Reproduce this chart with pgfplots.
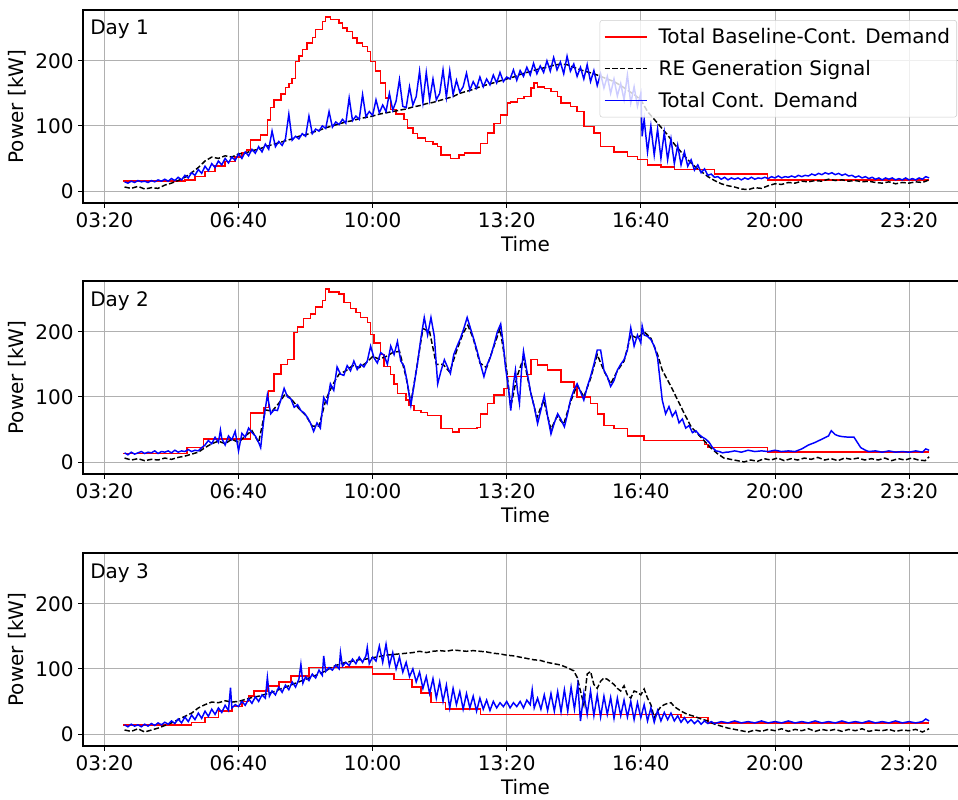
\documentclass[border=0pt]{standalone}
\usepackage{fontspec}
\setmainfont{DejaVu Sans}
\usepackage{pgfplots}
\pgfplotsset{compat=1.18}

\definecolor{darkgray176}{RGB}{176,176,176}
\definecolor{lightgray204}{RGB}{204,204,204}
\newcommand\fs{\fontsize{15}{18}\selectfont}

\pgfplotsset{
  dayax/.style={
    scale only axis, anchor=south west,
    width=663.75pt, height=144.75pt,
    xmin=168, xmax=1488, ymin=-18.5, ymax=278,
    xtick={200,400,600,800,1000,1200,1400},
    xticklabels={03:20,06:40,10:00,13:20,16:40,20:00,23:20},
    ytick={0,100,200},
    xmajorgrids, ymajorgrids,
    grid style={darkgray176, line width=0.6pt},
    axis line style={line width=0.8pt},
    tick align=outside, tick pos=left,
    major tick length=3.5pt,
    tick style={line width=0.6pt, color=black},
    tick label style={font=\fs},
    label style={font=\fs},
    /pgf/number format/assume math mode=true,
    xlabel={Time}, ylabel={Power [kW]},
  },
  redline/.style={red, line width=1.1pt, const plot},
  blkline/.style={black, line width=1.1pt, dash pattern=on 4pt off 1.8pt},
  bluline/.style={blue, line width=1.1pt},
}

\begin{document}
\begin{tikzpicture}

% ---------------- Day 1 ----------------
\begin{axis}[dayax, at={(62.25pt,447.75pt)},
  legend cell align={left},
  legend image code/.code={\draw[#1] (0pt,0pt) -- (32pt,0pt);},
  legend style={font=\fs, fill opacity=0.8, draw opacity=1, text opacity=1,
    draw=lightgray204, rounded corners=2pt,
    at={(0.9876,0.948)}, anchor=north east, row sep=7pt,
    inner ysep=4pt,
    /tikz/every odd column/.append style={column sep=6pt}}
]
\addplot [redline] coordinates {
(228,15)(320,17)(335,22)(350,30)(365,38)(380,45)(395,52)(405,58)(412,63)
(418,78)(433,86)(443,109)(448,128)(453,140)(463,149)(470,159)(475,165)(480,173)
(485,199)(490,207)(495,217)(502,227)(510,236)(515,248)(525,260)(530,267)(537,263)(550,258)
(555,250)(562,245)(570,235)(577,227)(585,222)(592,214)(597,199)(604,184)(612,166)(619,143)
(627,125)(635,118)(647,110)(652,97)(660,88)(667,81)(679,76)(690,72)(697,68)(702,55)
(716,50)(729,55)(737,58)(761,73)(771,89)(781,104)(791,117)(801,135)(806,137)(816,142)
(826,145)(836,158)(841,166)(846,160)(856,157)(866,153)(876,145)(881,135)(895,130)(905,122)
(915,99)(930,89)(940,68)(960,60)(980,53)(995,48)(1010,40)(1030,37)(1050,33)(1110,26)
(1189,17)(1430,17)
};
\addlegendentry{Total Baseline-Cont. Demand}
\addplot [blkline] coordinates {
(230,6)(240,4)(250,7)(260,3)(270,5)(280,4)(290,9)(300,12)(310,16)(320,21)(330,28)(340,36)
(350,46)(360,52)(370,50)(380,54)(390,52)(400,57)(410,58)(420,62)(430,64)(440,68)(450,71)
(460,74)(470,77)(480,80)(490,84)(500,86)(510,90)(520,93)(530,97)(540,100)(550,103)(560,106)
(570,108)(580,111)(590,113)(600,115)(610,118)(620,120)(630,122)(640,124)(650,126)(660,129)
(670,131)(680,134)(690,136)(700,139)(710,142)(720,145)(730,150)(740,153)(750,156)(760,160)
(770,163)(780,166)(790,169)(800,172)(810,175)(820,179)(830,182)(840,185)(850,188)(860,190)
(870,193)(880,195)(890,194)(900,190)(910,186)(920,183)(930,180)(940,176)(950,172)(960,168)
(970,162)(980,155)(990,148)(1000,140)(1010,122)(1020,110)(1030,98)(1040,86)(1050,72)(1060,60)
(1070,48)(1080,38)(1090,30)(1100,22)(1110,16)(1120,11)(1130,8)(1140,6)(1150,3)(1160,2)
(1170,5)(1180,4)(1190,8)(1200,11)(1210,10)(1220,13)(1230,12)(1240,15)(1250,14)(1260,16)
(1270,15)(1280,18)(1290,16)(1300,17)(1310,15)(1320,16)(1330,14)(1340,15)(1350,13)(1360,12)
(1370,14)(1380,11)(1390,13)(1400,12)(1410,14)(1420,13)(1430,17)
};
\addlegendentry{RE Generation Signal}
\addplot [bluline] coordinates {
(230,14)(235,12)(240,15)(245,13)(250,16)(255,14)(260,15)(265,13)(270,16)(275,14)(280,17)
(285,15)(290,18)(295,15)(300,19)(305,16)(310,21)(315,17)(320,24)(325,20)(330,28)(335,24)
(340,33)(345,27)(350,38)(355,31)(360,42)(365,36)(370,46)(375,40)(380,50)(385,43)(390,52)
(395,47)(400,57)(405,50)(410,60)(415,54)(420,64)(425,58)(430,68)(435,60)(440,72)(445,64)
(450,92)(455,68)(460,76)(465,70)(470,80)(475,118)(480,78)(485,84)(490,80)(495,88)(500,84)
(505,115)(510,88)(515,95)(520,92)(525,100)(530,96)(535,122)(540,98)(545,106)(550,102)
(555,110)(560,104)(565,143)(570,108)(575,115)(580,110)(585,148)(590,114)(595,122)(600,116)
(605,140)(610,120)(615,132)(620,122)(625,150)(630,124)(635,138)(640,171)(645,130)(650,128)
(655,160)(660,132)(665,145)(670,184)(675,136)(680,182)(685,140)(690,172)(695,140)(700,150)
(705,186)(710,144)(715,185)(720,148)(725,170)(730,152)(735,160)(740,181)(745,155)(750,168)
(755,158)(760,175)(765,160)(770,172)(775,163)(780,178)(785,166)(790,182)(795,168)(800,175)
(805,172)(810,186)(815,170)(820,185)(825,176)(830,190)(835,178)(840,196)(845,180)(850,192)
(855,182)(860,200)(865,184)(870,205)(875,186)(880,198)(885,180)(890,207)(895,184)(900,195)
(905,176)(910,190)(915,172)(920,194)(925,168)(930,185)(935,162)(940,180)(945,158)(950,176)
(955,150)(960,172)(965,146)(970,165)(975,140)(980,178)(985,135)(990,160)(995,130)(1000,150)
(1002,84)(1005,110)(1010,60)(1015,100)(1020,55)(1025,95)(1030,50)(1035,90)(1040,48)(1045,80)
(1050,42)(1055,70)(1060,40)(1065,60)(1070,38)(1075,48)(1080,32)(1085,40)(1090,28)(1095,34)
(1100,24)(1105,26)(1110,21)(1115,22)(1120,18)(1125,21)(1130,17)(1135,20)(1140,18)(1145,20)
(1150,17)(1155,20)(1160,18)(1165,21)(1170,18)(1175,20)(1180,19)(1185,21)(1190,19)(1195,22)
(1200,20)(1205,23)(1210,20)(1215,22)(1220,21)(1225,23)(1230,21)(1235,24)(1240,22)(1245,24)
(1250,23)(1255,26)(1260,24)(1265,27)(1270,25)(1275,28)(1280,26)(1285,28)(1290,25)(1295,27)
(1300,24)(1305,26)(1310,23)(1315,24)(1320,21)(1325,23)(1330,20)(1335,22)(1340,19)(1345,21)
(1350,18)(1355,20)(1360,17)(1365,20)(1370,18)(1375,20)(1380,17)(1385,19)(1390,17)(1395,20)
(1400,17)(1405,19)(1410,17)(1415,20)(1420,18)(1425,22)(1430,20)
};
\addlegendentry{Total Cont. Demand}
\node[anchor=north west, inner sep=0pt, font=\fs] at (rel axis cs:0,1) [xshift=5.25pt, yshift=-7.5pt] {Day 1};
\end{axis}

% ---------------- Day 2 ----------------
\begin{axis}[dayax, at={(62.25pt,244.5pt)}]
\addplot [redline] coordinates {
(228,13)(323,22)(348,35)(418,75)(438,84)(445,109)(453,135)(463,150)(473,157)(483,199)
(488,207)(497,220)(507,227)(515,238)(525,248)(530,266)(535,261)(550,258)(557,245)(567,236)
(575,230)(582,222)(592,214)(597,196)(602,183)(612,165)(617,147)(627,134)(632,120)(637,105)
(650,95)(654,87)(662,79)(672,76)(682,71)(702,51)(719,46)(729,51)(756,53)(761,74)(771,90)
(781,103)(796,113)(801,131)(831,134)(836,157)(846,149)(861,141)(881,123)(900,115)(905,100)
(925,90)(935,74)(945,56)(960,51)(980,40)(1005,33)(1095,27)(1100,22)(1189,15)(1430,15)
};
\addplot [blkline] coordinates {
(230,6)(240,3)(250,5)(260,2)(270,4)(280,3)(290,6)(300,4)(310,7)(320,9)(330,12)(340,15)
(350,22)(360,28)(370,32)(380,28)(390,35)(400,30)(410,40)(420,48)(430,30)(440,80)(450,78)
(460,90)(470,105)(480,95)(490,82)(500,72)(510,55)(520,55)(530,95)(540,118)(550,135)(560,140)
(570,148)(580,145)(590,152)(600,162)(610,158)(620,162)(630,168)(640,170)(650,130)(657,90)
(665,140)(675,205)(685,200)(695,150)(705,150)(715,138)(725,170)(735,198)(742,210)(750,190)
(760,152)(770,145)(780,175)(790,205)(800,140)(806,85)(815,130)(825,160)(835,110)(845,68)
(855,95)(866,50)(875,70)(885,58)(895,92)(905,118)(915,100)(925,128)(935,165)(945,140)
(955,120)(965,140)(975,155)(985,195)(995,190)(1005,200)(1015,190)(1025,165)(1032,141)
(1045,116)(1055,95)(1065,74)(1075,54)(1085,43)(1095,32)(1104,22)(1114,13)(1124,6)(1134,4)
(1144,2)(1154,0)(1164,3)(1174,1)(1184,5)(1194,3)(1204,6)(1214,2)(1224,5)(1234,3)(1244,6)
(1254,4)(1264,7)(1274,3)(1284,5)(1294,2)(1304,6)(1314,4)(1324,6)(1334,3)(1344,5)(1354,3)
(1364,6)(1374,2)(1384,5)(1394,3)(1404,6)(1414,3)(1424,2)(1430,8)
};
\addplot [bluline] coordinates {
(230,14)(235,11)(240,15)(245,12)(250,14)(255,16)(260,13)(265,15)(270,14)(275,17)(280,13)
(285,16)(290,15)(295,17)(300,14)(305,18)(310,15)(315,17)(320,16)(325,19)(330,16)(335,18)
(340,17)(345,22)(350,26)(355,33)(360,28)(365,38)(370,30)(373,49)(375,36)(380,26)(385,40)
(390,34)(395,47)(400,17)(405,44)(410,38)(415,52)(420,45)(425,40)(430,30)(433,22)(438,68)
(443,103)(448,74)(453,80)(458,79)(463,95)(468,113)(473,100)(478,97)(483,84)(488,88)(493,79)
(498,75)(503,68)(508,58)(512,47)(517,60)(522,52)(527,99)(532,90)(537,120)(542,110)(547,146)
(552,135)(557,133)(562,148)(567,140)(572,155)(577,142)(582,150)(587,146)(592,155)(597,178)
(602,160)(607,152)(612,168)(617,164)(622,150)(627,178)(632,165)(637,185)(642,155)(647,147)
(652,120)(657,87)(662,120)(667,152)(672,190)(677,222)(682,195)(687,222)(692,193)(697,120)
(702,140)(707,157)(712,145)(716,136)(721,165)(726,178)(731,190)(736,205)(741,222)(746,205)
(751,188)(756,170)(761,150)(766,131)(771,150)(776,162)(781,180)(786,200)(791,212)(795,180)
(798,147)(803,110)(806,79)(810,120)(813,141)(816,110)(819,90)(822,140)(825,170)(830,140)
(836,105)(841,85)(846,59)(851,80)(856,102)(861,70)(866,43)(871,60)(876,74)(881,65)(886,54)
(891,75)(895,95)(900,110)(905,120)(910,108)(915,95)(920,115)(925,131)(930,150)(935,172)
(940,172)(945,141)(950,131)(955,116)(960,125)(965,141)(970,150)(975,157)(980,172)(985,206)
(990,178)(995,195)(1000,183)(1002,209)(1005,195)(1010,193)(1015,188)(1020,178)(1025,160)
(1027,141)(1032,95)(1037,74)(1042,85)(1047,70)(1052,78)(1057,60)(1062,66)(1067,52)(1072,56)
(1077,45)(1082,48)(1087,42)(1092,38)(1097,35)(1102,30)(1107,22)(1112,17)(1117,16)(1122,14)
(1127,15)(1130,15)(1140,17)(1150,15)(1160,18)(1170,16)(1180,17)(1190,16)(1200,18)(1210,16)
(1220,17)(1230,16)(1240,20)(1250,26)(1260,30)(1270,35)(1280,40)(1284,48)(1290,42)(1295,40)
(1300,39)(1310,38)(1318,38)(1323,30)(1328,22)(1335,18)(1340,16)(1350,17)(1360,15)(1370,17)
(1380,15)(1390,16)(1400,15)(1410,17)(1420,15)(1425,20)(1430,18)
};
\node[anchor=north west, inner sep=0pt, font=\fs] at (rel axis cs:0,1) [xshift=5.25pt, yshift=-7.5pt] {Day 2};
\end{axis}

% ---------------- Day 3 ----------------
\begin{axis}[dayax, at={(62.25pt,40.5pt)}]
\addplot [redline] coordinates {
(228,14)(330,18)(350,25)(370,35)(390,42)(405,50)(415,58)(423,66)(443,74)(460,80)(478,89)
(505,102)(560,103)(600,92)(632,84)(659,72)(672,63)(687,48)(709,38)(761,30)(1060,25)
(1100,17)(1430,17)
};
\addplot [blkline] coordinates {
(230,6)(240,4)(250,8)(260,3)(270,6)(280,9)(290,13)(300,17)(310,22)(320,27)(330,32)(340,40)
(350,45)(360,49)(370,48)(380,51)(390,49)(400,50)(410,53)(420,56)(430,58)(440,61)(450,64)
(460,68)(470,72)(480,76)(490,80)(500,84)(510,88)(520,92)(530,97)(540,103)(550,107)(560,110)
(570,112)(580,114)(590,115)(600,117)(610,119)(620,121)(630,122)(640,123)(650,124)(660,125)
(670,127)(680,125)(690,127)(700,128)(710,127)(720,129)(730,128)(740,127)(750,128)(760,127)
(770,126)(780,124)(790,123)(800,121)(810,120)(820,118)(830,116)(840,114)(850,113)(860,110)
(870,108)(880,106)(890,102)(900,97)(905,87)(910,66)(915,45)(920,92)(925,96)(930,76)(935,70)
(940,81)(945,86)(950,84)(955,80)(960,76)(965,70)(970,66)(975,74)(980,60)(985,55)(990,66)
(995,64)(1000,60)(1005,69)(1010,55)(1015,45)(1020,25)(1025,35)(1030,42)(1035,45)(1040,47)
(1045,48)(1050,42)(1060,35)(1070,30)(1080,27)(1090,23)(1100,20)(1110,15)(1120,12)(1130,9)
(1140,7)(1150,5)(1160,3)(1170,6)(1180,4)(1190,7)(1200,5)(1210,8)(1220,4)(1230,7)(1240,5)
(1250,8)(1260,4)(1270,7)(1280,5)(1290,7)(1300,4)(1310,7)(1320,5)(1330,8)(1340,4)(1350,6)
(1360,5)(1370,7)(1380,4)(1390,6)(1400,5)(1410,7)(1420,3)(1430,8)
};
\addplot [bluline] coordinates {
(230,14)(235,11)(240,15)(245,12)(250,14)(255,11)(260,15)(265,12)(270,16)(275,13)(280,17)
(285,14)(290,18)(295,15)(300,20)(305,16)(310,23)(315,17)(320,26)(325,19)(330,29)(335,22)
(340,32)(345,24)(350,35)(355,27)(360,38)(365,30)(370,40)(375,33)(380,44)(385,36)(388,71)
(390,40)(395,45)(400,42)(405,50)(410,44)(415,54)(420,47)(425,57)(430,50)(435,60)(440,55)
(443,87)(446,58)(450,66)(455,60)(460,72)(465,64)(470,75)(475,68)(480,80)(485,72)(490,84)
(493,107)(496,78)(500,88)(505,82)(510,92)(515,86)(520,98)(525,90)(527,120)(530,96)(535,102)
(540,98)(545,106)(550,100)(552,125)(555,104)(560,110)(565,105)(570,115)(575,108)(580,118)
(585,110)(590,120)(592,133)(595,108)(600,118)(605,112)(610,135)(615,110)(620,138)(625,105)
(630,125)(635,100)(640,118)(645,95)(650,110)(655,88)(660,100)(665,80)(670,95)(675,70)
(680,88)(685,62)(690,85)(695,55)(700,80)(705,50)(710,75)(715,40)(720,70)(725,45)(730,65)
(735,38)(740,62)(745,40)(750,58)(755,35)(760,55)(765,38)(770,52)(775,36)(780,50)(785,40)
(790,48)(795,42)(800,50)(805,40)(810,48)(815,42)(820,50)(825,40)(830,52)(835,45)(838,68)
(841,40)(846,55)(851,38)(856,60)(861,36)(866,62)(871,35)(876,65)(881,34)(886,68)(891,35)
(896,72)(901,38)(906,76)(910,20)(915,62)(920,30)(925,66)(930,28)(935,60)(940,26)(945,58)
(950,30)(955,56)(960,24)(965,55)(970,28)(975,52)(980,26)(985,50)(990,22)(995,48)(1000,25)
(1005,45)(1010,20)(1015,40)(1020,18)(1025,36)(1030,20)(1035,33)(1040,22)(1045,32)(1050,20)
(1055,28)(1060,18)(1065,25)(1070,17)(1075,22)(1080,16)(1085,21)(1090,15)(1095,20)(1100,16)
(1105,19)(1110,16)(1120,19)(1130,17)(1140,20)(1150,17)(1160,19)(1170,17)(1180,20)(1190,17)
(1200,19)(1210,17)(1220,20)(1230,17)(1240,19)(1250,17)(1260,20)(1270,17)(1280,19)(1290,17)
(1300,20)(1310,17)(1320,19)(1330,17)(1340,20)(1350,17)(1360,19)(1370,17)(1380,20)(1390,17)
(1400,19)(1410,17)(1420,19)(1425,23)(1430,20)
};
\node[anchor=north west, inner sep=0pt, font=\fs] at (rel axis cs:0,1) [xshift=5.25pt, yshift=-7.5pt] {Day 3};
\end{axis}

\pgfresetboundingbox
\useasboundingbox (0,0) rectangle (718.5pt,600pt);
\end{tikzpicture}
\end{document}
